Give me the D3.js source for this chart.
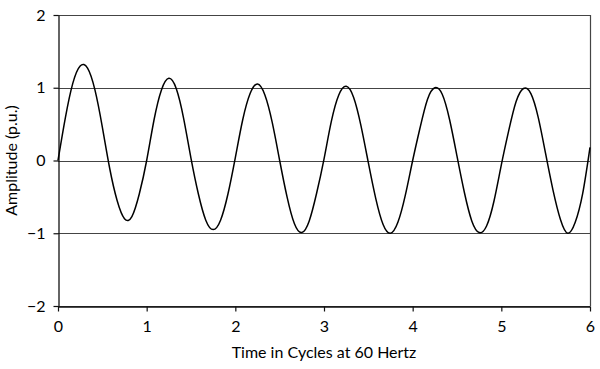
<!DOCTYPE html>
<html>
<head>
<meta charset="utf-8">
<script src="https://cdn.jsdelivr.net/npm/d3@7"></script>
<style>
  body { margin: 0; background: #fff; }
  text { font-family: Lato, "Open Sans", sans-serif; fill: #000; }
</style>
</head>
<body>
<div id="chart"></div>
<script>
// sample times, in cycles (1/12 cycle steps)
const times = d3.range(0, 73).map(i => i / 12);

// amplitude at each sample time
const amplitude = [
    0.00, 0.59, 1.06, 1.30, 1.27, 0.97, 0.46, -0.11, -0.55, -0.80, -0.77, -0.46,
    0.00, 0.56, 0.97, 1.13, 0.99, 0.58, 0.03, -0.46, -0.82, -0.95, -0.82, -0.46,
    0.04, 0.56, 0.92, 1.05, 0.90, 0.52, 0.00, -0.50, -0.87, -0.99, -0.83, -0.45,
    0.02, 0.54, 0.90, 1.02, 0.87, 0.48, -0.03, -0.52, -0.88, -1.00, -0.85, -0.48,
    0.00, 0.45, 0.84, 1.00, 0.91, 0.56, 0.06, -0.44, -0.83, -0.99, -0.90, -0.56,
    -0.06, 0.41, 0.81, 0.99, 0.92, 0.59, 0.09, -0.41, -0.81, -1.00, -0.85, -0.46,
    0.18
];

const xTicks = [0, 1, 2, 3, 4, 5, 6];
const yTicks = [-2, -1, 0, 1, 2];
const xTitle = 'Time in Cycles at 60 Hertz';
const yTitle = 'Amplitude (p.u.)';

const width = 600, height = 369;
const margin = {top: 15, right: 10, bottom: 63, left: 58};

const svg = d3.select('#chart').append('svg')
    .attr('width', width)
    .attr('height', height);

const x = d3.scaleLinear().domain([0, 6]).range([margin.left, width - margin.right]);
const y = d3.scaleLinear().domain([-2, 2]).range([height - margin.bottom, margin.top]);

// horizontal gridlines
svg.append('g')
    .selectAll('line')
    .data(yTicks)
    .enter().append('line')
    .attr('x1', x(0))
    .attr('x2', x(6))
    .attr('y1', d => Math.round(y(d)) + 0.5)
    .attr('y2', d => Math.round(y(d)) + 0.5)
    .attr('stroke', '#444')
    .attr('stroke-width', 1.2);

// right border
svg.append('line')
    .attr('x1', Math.round(x(6)) + 0.5)
    .attr('x2', Math.round(x(6)) + 0.5)
    .attr('y1', y(2))
    .attr('y2', y(-2))
    .attr('stroke', '#444')
    .attr('stroke-width', 1.2);

const xAxis = svg.append('g')
    .attr('transform', `translate(0,${Math.round(y(-2)) + 0.5})`)
    .call(d3.axisBottom(x).tickValues(xTicks).tickFormat(d3.format('d')).tickSizeInner(5).tickSizeOuter(0).tickPadding(9));

const yAxis = svg.append('g')
    .attr('transform', `translate(${Math.round(x(0)) + 0.5},0)`)
    .call(d3.axisLeft(y).tickValues(yTicks).tickFormat(d => d < 0 ? '\u2212' + Math.abs(d) : d).tickSizeInner(5).tickSizeOuter(0).tickPadding(8));

[xAxis, yAxis].forEach(a => {
    a.select('.domain').attr('stroke', '#111').attr('stroke-width', 1.3);
    a.selectAll('.tick line').attr('stroke', '#111').attr('stroke-width', 1.2);
    a.selectAll('.tick text').attr('font-size', 16).attr('font-family', 'Lato, sans-serif');
});

const line = d3.line()
    .x((d, i) => x(times[i]))
    .y(d => y(d))
    .curve(d3.curveNatural);

svg.append('path')
    .datum(amplitude)
    .attr('fill', 'none')
    .attr('stroke', '#000')
    .attr('stroke-width', 1.5)
    .attr('d', line);

svg.append('text')
    .attr('x', (x(0) + x(6)) / 2)
    .attr('y', 358)
    .attr('text-anchor', 'middle')
    .attr('font-size', 16)
    .text(xTitle);

svg.append('text')
    .attr('transform', `translate(17,${y(0)}) rotate(-90)`)
    .attr('text-anchor', 'middle')
    .attr('font-size', 16)
    .text(yTitle);
</script>
</body>
</html>
